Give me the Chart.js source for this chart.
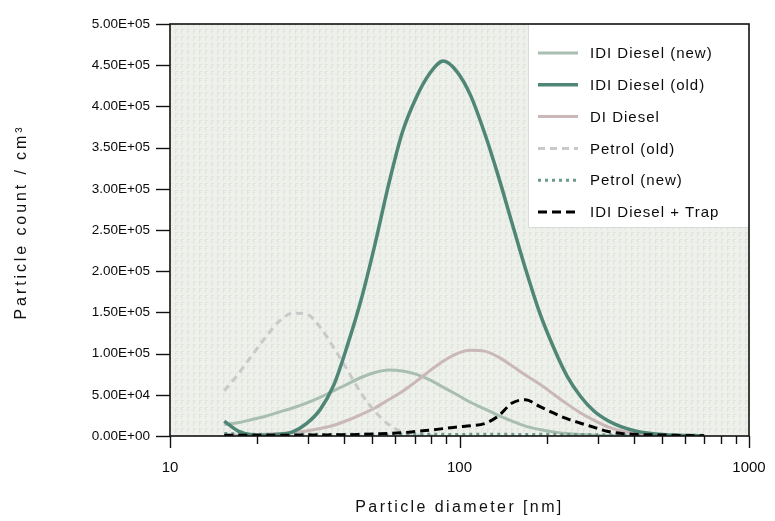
<!DOCTYPE html>
<html>
<head>
<meta charset="utf-8">
<script src="https://cdn.jsdelivr.net/npm/chart.js@4.4.1/dist/chart.umd.min.js"></script>
<style>
  html, body { margin: 0; padding: 0; background: #ffffff; }
  #wrap { width: 775px; height: 521px; }
</style>
</head>
<body>
<div id="wrap"><canvas id="c" width="775" height="521"></canvas></div>
<script>
// Particle size distributions (mobility diameter, nm) and number concentrations (#/cm3)
const diameters = [15.4, 17.2, 19.2, 21.4, 23.8, 26.5, 29.6, 33.0, 36.8, 41.0, 45.7, 51.0,
                   56.9, 63.4, 70.7, 78.9, 88.0, 98.1, 109, 122, 136, 152, 169, 189,
                   211, 235, 262, 292, 326, 363, 405, 452, 504, 562, 627, 700];

const idiDieselNew = [14000, 16000, 20000, 24000, 29000, 34000, 40000, 47000, 55000, 63000, 71000, 77000,
                      80000, 79000, 75000, 68000, 59000, 50000, 41000, 33000, 25000, 18000, 12000, 8000,
                      5000, 3000, 1800, 1000, 600, 300, 150, 100, 50, 30, 20, 10];

const idiDieselOld = [18000, 6000, 1500, 1000, 2000, 5000, 15000, 32000, 62000, 110000, 165000, 232000,
                      305000, 368000, 410000, 440000, 455000, 442000, 414000, 368000, 316000, 258000, 203000, 150000,
                      108000, 73000, 48000, 30000, 18500, 11000, 6200, 3400, 1800, 900, 500, 300];

const diDiesel = [1000, 1000, 1500, 2000, 3000, 4000, 6000, 9000, 13000, 19000, 26000, 34000,
                  44000, 54000, 66000, 79000, 91000, 100000, 104000, 103000, 96000, 85000, 74000, 63000,
                  51000, 39000, 28000, 19000, 11000, 6000, 3000, 1500, 800, 400, 200, 100];

const petrolOld = [55000, 75000, 98000, 120000, 139000, 149000, 148000, 132000, 107000, 80000, 52000, 30000,
                   14000, 5000, 1500, 500, 200, null, null, null, null, null, null, null,
                   null, null, null, null, null, null, null, null, null, null, null, null];

const petrolNew = [3000, 2500, 2000, 2000, 1800, 2000, 2200, 2000, 1800, 2000, 2200, 2000,
                   1800, 2000, 2000, 2200, 2000, 1800, 2000, 2000, 2200, 2000, 1800, 2000,
                   2000, 1800, 1800, 1600, 1600, 1500, 1500, 1200, 1000, 1000, 1000, 1000];

const idiDieselTrap = [1000, 800, 800, 800, 1000, 1000, 1200, 1200, 1500, 1500, 2000, 2500,
                       3000, 4000, 5500, 7000, 9000, 11000, 12500, 15000, 24000, 40000, 44000, 36000,
                       28000, 21000, 15500, 10500, 5500, 3000, 2000, 1500, 1200, 800, 500, 300];

const seriesNames = ['IDI Diesel (new)', 'IDI Diesel (old)', 'DI Diesel', 'Petrol (old)', 'Petrol (new)', 'IDI Diesel + Trap'];

// Axis ticks
const xTickValues = [10, 20, 30, 40, 50, 60, 70, 80, 90, 100, 200, 300, 400, 500, 600, 700, 800, 900, 1000];
const xMajorValues = [10, 100, 1000];
const xTickLabels = ['10', '100', '1000'];
const yTickLabels = ['0.00E+00', '5.00E+04', '1.00E+05', '1.50E+05', '2.00E+05', '2.50E+05',
                     '3.00E+05', '3.50E+05', '4.00E+05', '4.50E+05', '5.00E+05'];

const xTitle = 'Particle diameter [nm]';
const yTitle = 'Particle count / cm\u00B3';

const toPoints = vals => diameters.map((d, i) => ({ x: d, y: vals[i] }));

// Textured plot background
function makePattern(ctx) {
  const t = document.createElement('canvas');
  t.width = 6; t.height = 7;
  const g = t.getContext('2d');
  g.fillStyle = '#eef0eb';
  g.fillRect(0, 0, 6, 7);
  g.fillStyle = '#e0e4dd';
  [[1,1],[2,1],[3,1],[1,2],[1,3],[2,3],[1,4],[1,5]].forEach(([x, y]) => g.fillRect(x, y, 1, 1));
  return ctx.createPattern(t, 'repeat');
}

const decor = {
  id: 'decor',
  beforeDraw(chart) {
    const { ctx, chartArea: a } = chart;
    ctx.save();
    ctx.fillStyle = makePattern(ctx);
    ctx.fillRect(a.left, a.top, a.right - a.left, a.bottom - a.top);
    ctx.restore();
  },
  afterDatasetsDraw(chart) {
    const { ctx, chartArea: a, scales } = chart;
    ctx.save();

    // legend box
    const lw = 221, lh = 204;
    const lx = a.right - lw, ly = a.top;
    ctx.fillStyle = '#ffffff';
    ctx.fillRect(lx, ly, lw, lh);
    ctx.strokeStyle = '#d8dad6';
    ctx.lineWidth = 1;
    ctx.beginPath();
    ctx.moveTo(lx + 0.5, ly);
    ctx.lineTo(lx + 0.5, ly + lh - 0.5);
    ctx.lineTo(a.right, ly + lh - 0.5);
    ctx.stroke();

    ctx.font = '15px "Liberation Sans", Arial, sans-serif';
    ctx.letterSpacing = '1px';
    ctx.textBaseline = 'middle';
    ctx.textAlign = 'left';
    chart.data.datasets.forEach((ds, i) => {
      const y = ly + 29 + i * 31.8;
      ctx.strokeStyle = ds.borderColor;
      ctx.lineWidth = ds.borderWidth;
      ctx.setLineDash(ds.borderDash || []);
      ctx.beginPath();
      ctx.moveTo(lx + 10, y);
      ctx.lineTo(lx + 50, y);
      ctx.stroke();
      ctx.setLineDash([]);
      ctx.fillStyle = '#0a0a0a';
      ctx.fillText(ds.label, lx + 62, y + 1);
    });
    ctx.letterSpacing = '0px';

    // frame
    ctx.strokeStyle = '#111111';
    ctx.lineWidth = 1.6;
    ctx.strokeRect(a.left, a.top, a.right - a.left, a.bottom - a.top);

    // y tick marks
    ctx.lineWidth = 1.4;
    scales.y.ticks.forEach(t => {
      const py = Math.round(scales.y.getPixelForValue(t.value)) + 0.5;
      ctx.beginPath();
      ctx.moveTo(a.left - 14, py);
      ctx.lineTo(a.left, py);
      ctx.stroke();
    });

    // x tick marks
    scales.x.ticks.forEach(t => {
      const px = Math.round(scales.x.getPixelForValue(t.value)) + 0.5;
      const len = xMajorValues.includes(t.value) ? 12 : 8;
      ctx.beginPath();
      ctx.moveTo(px, a.bottom);
      ctx.lineTo(px, a.bottom + len);
      ctx.stroke();
    });

    // axis titles
    ctx.fillStyle = '#111111';
    ctx.font = '16px "Liberation Sans", Arial, sans-serif';
    ctx.letterSpacing = '2.4px';
    ctx.textAlign = 'center';
    ctx.textBaseline = 'middle';
    ctx.fillText(xTitle, (a.left + a.right) / 2, 508);
    ctx.translate(22, 222);
    ctx.rotate(-Math.PI / 2);
    ctx.letterSpacing = '2.9px';
    ctx.fillText(yTitle, 0, 0);
    ctx.restore();
  }
};

const styles = [
  { color: '#a8beb0', width: 3, dash: [] },
  { color: '#4f8676', width: 3.5, dash: [] },
  { color: '#c9b8b7', width: 3, dash: [] },
  { color: '#c9c9c9', width: 3, dash: [7, 5] },
  { color: '#6d9a8c', width: 3, dash: [3, 4] },
  { color: '#000000', width: 3, dash: [9, 5] }
];
const seriesValues = [idiDieselNew, idiDieselOld, diDiesel, petrolOld, petrolNew, idiDieselTrap];

const datasets = seriesValues.map((vals, i) => ({
  label: seriesNames[i],
  data: toPoints(vals),
  borderColor: styles[i].color,
  backgroundColor: styles[i].color,
  borderWidth: styles[i].width,
  borderDash: styles[i].dash,
  pointRadius: 0,
  cubicInterpolationMode: 'monotone',
  fill: false,
  spanGaps: false,
  order: i === 5 ? 0 : i === 1 ? 1 : 6 - i
}));

new Chart(document.getElementById('c'), {
  type: 'line',
  data: { datasets },
  plugins: [decor],
  options: {
    responsive: false,
    devicePixelRatio: 1,
    animation: false,
    layout: { padding: { left: 0, top: 24, right: 26, bottom: 0 } },
    plugins: { legend: { display: false }, tooltip: { enabled: false } },
    scales: {
      x: {
        type: 'logarithmic',
        min: 10,
        max: 1000,
        afterBuildTicks: s => { s.ticks = xTickValues.map(v => ({ value: v })); },
        afterFit: s => { s.height = 85; s.paddingLeft = 0; s.paddingRight = 0; },
        grid: { display: false },
        border: { display: false },
        ticks: {
          autoSkip: false,
          maxRotation: 0,
          padding: 15,
          color: '#0a0a0a',
          font: { family: '"Liberation Sans", Arial, sans-serif', size: 15 },
          callback: v => {
            const k = xMajorValues.indexOf(v);
            return k >= 0 ? xTickLabels[k] : '';
          }
        }
      },
      y: {
        min: 0,
        max: 500000,
        afterFit: s => { s.width = 170; s.paddingTop = 0; s.paddingBottom = 0; },
        grid: { display: false },
        border: { display: false },
        ticks: {
          stepSize: 50000,
          padding: 12,
          color: '#0a0a0a',
          font: { family: '"Liberation Sans", Arial, sans-serif', size: 13.5 },
          callback: (v, i) => yTickLabels[i]
        }
      }
    }
  }
});
</script>
</body>
</html>
